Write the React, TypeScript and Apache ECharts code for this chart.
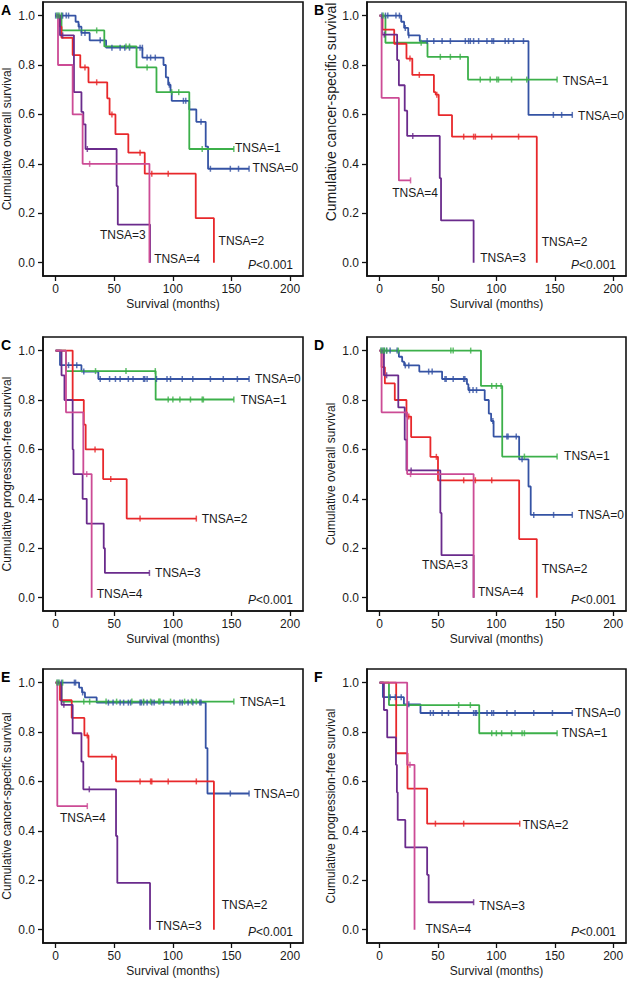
import React, { useEffect, useRef } from 'react';
import * as echarts from 'echarts';

// ---------- data ----------
const groups = ['TNSA=0', 'TNSA=1', 'TNSA=2', 'TNSA=3', 'TNSA=4'];
const panelLetters = ['A', 'B', 'C', 'D', 'E', 'F'];
const yTitles = [
  'Cumulative overall survival',
  'Cumulative cancer-specific survival',
  'Cumulative progression-free survival',
  'Cumulative overall survival',
  'Cumulative cancer-specific survival',
  'Cumulative progression-free survival',
];
const xTitle = 'Survival (months)';
const pText = '<0.001';
const xTicks = [0, 50, 100, 150, 200];
const yTicks = [0, 0.2, 0.4, 0.6, 0.8, 1.0];

// Kaplan-Meier steps [months, survival] for groups TNSA=0..4
const stepsA = [
  [[0,1],[17,0.975],[19.5,0.955],[22,0.93],[29,0.9],[43,0.87],[74,0.83],[92,0.8],[94,0.75],[96,0.72],[98,0.69],[99,0.655],[114,0.62],[120,0.57],[128,0.47],[130,0.38],[165,0.38]],
  [[0,1],[5,0.94],[41.5,0.875],[69,0.79],[86,0.69],[114,0.46],[152,0.46]],
  [[0,1],[3.5,0.955],[5,0.91],[14.5,0.84],[21,0.79],[28,0.73],[44,0.665],[46,0.6],[51,0.52],[62,0.445],[76,0.36],[119.5,0.18],[135,0]],
  [[0,1],[3.7,0.92],[15.6,0.69],[22,0.61],[23.6,0.56],[25.5,0.46],[52,0.31],[53,0.154],[80.5,0]],
  [[0,1],[2,0.8],[14.5,0.6],[23,0.4],[80,0]],
];
const censorA = [
  [[0,1],[2,1],[5,1],[6,1],[9,1],[11,1],[20,0.955],[22,0.93],[25,0.93],[38,0.9],[48,0.87],[55,0.87],[59,0.87],[63,0.87],[72,0.87],[74,0.87],[78,0.83],[81,0.83],[85,0.83],[97,0.72],[109,0.655],[111,0.655],[124,0.57],[132,0.38],[149,0.38],[156,0.38],[165,0.38]],
  [[1,1],[3,1],[5,1],[35,0.94],[60,0.875],[63,0.875],[78,0.79],[99,0.69],[105,0.69],[125,0.46],[152,0.46]],
  [[25,0.79],[35,0.73],[48,0.6],[72,0.445],[82,0.36],[96,0.36]],
  [[6,0.92],[27,0.46]],
  [[29,0.4]],
];
const stepsB = [
  [[0,1],[18.5,0.975],[21,0.95],[24.5,0.92],[34.4,0.897],[127.5,0.598],[165,0.598]],
  [[0,1],[5,0.89],[41,0.833],[75.7,0.741],[152,0.741]],
  [[0,1],[2.5,0.943],[12.5,0.886],[23,0.826],[28,0.76],[46.5,0.69],[48,0.68],[50.6,0.597],[62,0.51],[134.6,0]],
  [[0,1],[2,0.923],[15,0.82],[16.5,0.718],[21.5,0.615],[23.6,0.513],[51.5,0.342],[52.6,0.171],[80.5,0]],
  [[0,1],[1.7,0.667],[16.5,0.333],[26.5,0.333]],
];
const censorB = [
  [[2,1],[5,1],[7,1],[14,1],[17,1],[22,0.95],[25,0.92],[40.7,0.897],[46.4,0.897],[53.5,0.897],[60.6,0.897],[73.4,0.897],[76.2,0.897],[77.7,0.897],[80.5,0.897],[84.8,0.897],[91.9,0.897],[96.2,0.897],[97.6,0.897],[107.5,0.897],[110.4,0.897],[114.7,0.897],[123.2,0.897],[148.8,0.598],[155.9,0.598],[165,0.598]],
  [[3,1],[35.6,0.89],[52,0.833],[60.6,0.833],[69,0.833],[86.2,0.741],[94.7,0.741],[100.4,0.741],[101.8,0.741],[113,0.741],[126,0.741],[152,0.741]],
  [[26,0.826],[34,0.76],[49,0.68],[72,0.51],[80.5,0.51],[82,0.51],[96,0.51],[119,0.51]],
  [[4,0.923],[28.4,0.513]],
  [[26.5,0.333]],
];
const stepsC = [
  [[0,1],[3.7,0.941],[22,0.915],[36.4,0.885],[165,0.885]],
  [[0,1],[8.8,0.917],[85.3,0.802],[152,0.802]],
  [[0,1],[14.5,0.8],[24,0.7],[25.6,0.6],[40.5,0.48],[60.6,0.32],[120,0.32]],
  [[0,1],[5,0.9],[7.5,0.8],[14.5,0.6],[15.2,0.5],[23,0.4],[26.5,0.3],[41,0.2],[42,0.1],[80,0.1]],
  [[0,1],[8.8,0.75],[23.6,0.5],[30.7,0]],
];
const censorC = [
  [[11,0.941],[18,0.941],[24,0.915],[38,0.885],[46,0.885],[51,0.885],[55,0.885],[62,0.885],[66,0.885],[75,0.885],[76,0.885],[78,0.885],[86,0.885],[95,0.885],[98,0.885],[108,0.885],[117,0.885],[132,0.885],[143,0.885],[155,0.885],[165,0.885]],
  [[34,0.917],[60,0.917],[85,0.917],[96,0.802],[100,0.802],[106,0.802],[115,0.802],[125,0.802],[126,0.802],[152,0.802]],
  [[33.6,0.6],[47,0.48],[72,0.32],[120,0.32]],
  [[80,0.1]],
  [[26.5,0.5]],
];
const stepsD = [
  [[0,1],[16.5,0.975],[19.3,0.955],[21,0.94],[34,0.915],[53.5,0.885],[74.8,0.864],[76,0.84],[90,0.8],[93.5,0.745],[95.5,0.715],[97.6,0.652],[119.5,0.56],[127.5,0.45],[129.4,0.335],[165,0.335]],
  [[0,1],[86.8,0.857],[105,0.571],[152,0.571]],
  [[0,1],[1.7,0.933],[4.5,0.867],[13,0.8],[23,0.733],[27,0.65],[43.5,0.57],[50,0.475],[119.5,0.237],[134.6,0]],
  [[0,1],[3.7,0.9],[16,0.77],[21.5,0.64],[23,0.515],[52,0.343],[53,0.172],[80.5,0]],
  [[0,1],[1.7,0.75],[23.6,0.5],[80.5,0]],
];
const censorD = [
  [[2,1],[4,1],[6,1],[9,1],[15,1],[22,0.94],[25,0.94],[42,0.915],[45,0.915],[56,0.885],[57,0.885],[63,0.885],[72,0.885],[73,0.885],[77,0.84],[80,0.84],[83,0.84],[97,0.715],[109,0.652],[110,0.652],[117,0.652],[122,0.56],[132,0.335],[149,0.335],[165,0.335]],
  [[1,1],[3,1],[4,1],[6,1],[16,1],[61,1],[63,1],[78,1],[96,0.857],[100,0.857],[104,0.857],[124,0.571],[152,0.571]],
  [[25,0.733],[48.6,0.57],[72,0.475],[82,0.475],[96,0.475]],
  [[6,0.9],[27,0.515]],
  [[26.5,0.5]],
];
const stepsE = [
  [[0,1],[20,0.98],[22.5,0.96],[25,0.94],[35,0.919],[128,0.735],[129.5,0.551],[165,0.551]],
  [[0,1],[5,0.923],[152,0.923]],
  [[0,1],[3.7,0.929],[13.7,0.857],[24.5,0.786],[28,0.7],[51.5,0.6],[135,0]],
  [[0,1],[5,0.91],[14.5,0.795],[22,0.68],[23.6,0.568],[51.5,0.379],[52.6,0.189],[80.5,0]],
  [[0,1],[1.4,0.5],[27,0.5]],
];
const censorE = [
  [[2,1],[5,1],[16,1],[17,1],[23,0.96],[45,0.919],[49,0.919],[55,0.919],[58,0.919],[62,0.919],[64,0.919],[72,0.919],[73,0.919],[75,0.919],[78,0.919],[82,0.919],[84,0.919],[92,0.919],[101,0.919],[106,0.919],[108,0.919],[113,0.919],[117,0.919],[123,0.919],[124,0.919],[149,0.551],[165,0.551]],
  [[1,1],[3,1],[6,1],[24,0.923],[29,0.923],[43,0.923],[52,0.923],[65,0.923],[75,0.923],[81,0.923],[88,0.923],[89,0.923],[98,0.923],[110,0.923],[116,0.923],[120,0.923],[152,0.923]],
  [[27,0.786],[48,0.7],[72,0.6],[81,0.6],[82,0.6],[96,0.6],[120,0.6]],
  [[7,0.91],[28.7,0.568]],
  [[27,0.5]],
];
const stepsF = [
  [[0,1],[2.8,0.941],[20.8,0.912],[35,0.877],[165,0.877]],
  [[0,1],[8,0.909],[85.3,0.795],[152,0.795]],
  [[0,1],[14.2,0.714],[23.9,0.571],[40.7,0.429],[120,0.429]],
  [[0,1],[3.7,0.889],[6.5,0.778],[14,0.667],[14.8,0.556],[15.5,0.444],[22,0.333],[40.7,0.222],[42,0.111],[80.5,0.111]],
  [[0,1],[23.6,0.667],[29.9,0]],
];
const censorF = [
  [[9,0.941],[13.5,0.941],[18.5,0.941],[25,0.912],[43.5,0.877],[46,0.877],[53.5,0.877],[59,0.877],[67.5,0.877],[80.5,0.877],[82,0.877],[83,0.877],[92,0.877],[96,0.877],[97.6,0.877],[109,0.877],[116,0.877],[132,0.877],[148,0.877],[165,0.877]],
  [[67.7,0.909],[77.7,0.909],[96,0.795],[100,0.795],[104.5,0.795],[113,0.795],[122,0.795],[124,0.795],[152,0.795]],
  [[47.8,0.429],[72,0.429],[120,0.429]],
  [[80.5,0.111]],
  [[26,0.667]],
];

// group-label anchor (left edge, vertical middle) in data coordinates, per group TNSA=0..4
const labelAnchorsA = [[168,0.382],[153,0.466],[139,0.089],[37.8,0.112],[84,0.0135]];
const labelAnchorsB = [[170,0.594],[156.8,0.737],[138.8,0.085],[86.2,0.0175],[10.8,0.28]];
const labelAnchorsC = [[170,0.886],[158,0.798],[124.6,0.32],[84.8,0.1],[35,0.013]];
const labelAnchorsD = [[170,0.334],[158,0.573],[138.8,0.118],[36.4,0.132],[84.2,0.024]];
const labelAnchorsE = [[169,0.548],[157.3,0.922],[141.7,0.1],[85.6,0.016],[3.7,0.45]];
const labelAnchorsF = [[167.3,0.878],[156,0.794],[122.6,0.424],[85.3,0.097],[39.3,0.003]];

const allSteps = [stepsA, stepsB, stepsC, stepsD, stepsE, stepsF];
const allCensor = [censorA, censorB, censorC, censorD, censorE, censorF];
const allAnchors = [labelAnchorsA, labelAnchorsB, labelAnchorsC, labelAnchorsD, labelAnchorsE, labelAnchorsF];

// ---------- styles / layout ----------
const COLORS = ['#3553a4', '#3cb04a', '#e8282b', '#6a2b8c', '#cc4b95'];
const FONT = '"Liberation Sans", Arial, Helvetica, sans-serif';
const TXT = '#1a1a1a';
const FS = 12;
const COL_LEFT = [43, 367];
const COL_W = [260, 259];
const ROW_TOP = [2, 337, 669];
const BOX_H = 274;

export default function App() {
  const ref = useRef<HTMLDivElement>(null);
  useEffect(() => {
    document.body.style.margin = '0';
    const chart = echarts.init(ref.current!, null, { renderer: 'svg' });
    const boxes = panelLetters.map((_, i) => {
      const c = i % 2, r = Math.floor(i / 2);
      return { left: COL_LEFT[c], top: ROW_TOP[r], width: COL_W[c], height: BOX_H };
    });
    const grid = boxes.map(b => ({ ...b, show: true, borderColor: '#111', borderWidth: 1.6, backgroundColor: 'transparent' }));
    const xAxis = boxes.map((_, i) => ({
      type: 'value', gridIndex: i, min: -10.8, max: 211,
      axisLine: { show: true, onZero: false, lineStyle: { color: '#111', width: 1.6 } },
      axisTick: { show: true, customValues: xTicks, length: 5, lineStyle: { color: '#111', width: 1.3 } },
      axisLabel: { customValues: xTicks, fontSize: FS, color: TXT, fontFamily: FONT, margin: 7 },
      splitLine: { show: false },
      name: xTitle, nameLocation: 'middle', nameGap: 22,
      nameTextStyle: { fontSize: FS, color: TXT, fontFamily: FONT },
    }));
    const yAxis = boxes.map((_, i) => ({
      type: 'value', gridIndex: i, min: -0.054, max: 1.055,
      axisLine: { show: true, onZero: false, lineStyle: { color: '#111', width: 1.6 } },
      axisTick: { show: true, customValues: yTicks, length: 5, lineStyle: { color: '#111', width: 1.3 } },
      axisLabel: { customValues: yTicks, fontSize: FS, color: TXT, fontFamily: FONT, margin: 8, formatter: (v: number) => v.toFixed(1) },
      splitLine: { show: false },
      name: yTitles[i], nameLocation: 'middle', nameGap: i === 1 ? 29 : 30,
      nameTextStyle: i === 1
        ? { fontSize: 14, color: TXT, fontFamily: FONT, padding: [0, 0, 0, 54] }
        : { fontSize: FS, color: TXT, fontFamily: FONT },
    }));
    const series: any[] = [];
    allSteps.forEach((panel, i) => {
      panel.forEach((steps, g) => {
        series.push({
          type: 'line', name: groups[g], xAxisIndex: i, yAxisIndex: i, data: steps, step: 'end',
          symbol: 'none', showSymbol: false, silent: true,
          lineStyle: { color: COLORS[g], width: 1.8 }, z: 2,
        });
        series.push({
          type: 'scatter', name: groups[g] + ' censored', xAxisIndex: i, yAxisIndex: i, data: allCensor[i][g],
          symbol: 'rect', symbolSize: [1.5, 6], silent: true,
          itemStyle: { color: COLORS[g] }, z: 3,
        });
      });
    });
    chart.setOption({ animation: false, grid, xAxis, yAxis, series });

    const graphic: any[] = [];
    boxes.forEach((b, i) => {
      const c = i % 2;
      graphic.push({
        type: 'text', x: c === 0 ? 1 : 314, y: b.top + 1,
        style: { text: panelLetters[i], font: `bold 14px ${FONT}`, fill: '#000', textVerticalAlign: 'top' },
      });
      graphic.push({
        type: 'text', x: b.left + b.width - 10, y: b.top + b.height - 11,
        style: {
          text: '{i|P}{n|' + pText + '}', textAlign: 'right', textVerticalAlign: 'middle',
          font: `${FS}px ${FONT}`, fill: TXT,
          rich: {
            i: { fontStyle: 'italic', fontSize: FS, fontFamily: FONT, fill: TXT },
            n: { fontSize: FS, fontFamily: FONT, fill: TXT },
          },
        },
      });
      allAnchors[i].forEach((a, g) => {
        const p = chart.convertToPixel({ gridIndex: i } as any, a) as number[];
        graphic.push({
          type: 'text', x: p[0], y: p[1],
          style: { text: groups[g], font: `${FS}px ${FONT}`, fill: TXT, textAlign: 'left', textVerticalAlign: 'middle' },
        });
      });
    });
    chart.setOption({ graphic });
    return () => chart.dispose();
  }, []);
  return <div ref={ref} style={{ width: 628, height: 981 }} />;
}
